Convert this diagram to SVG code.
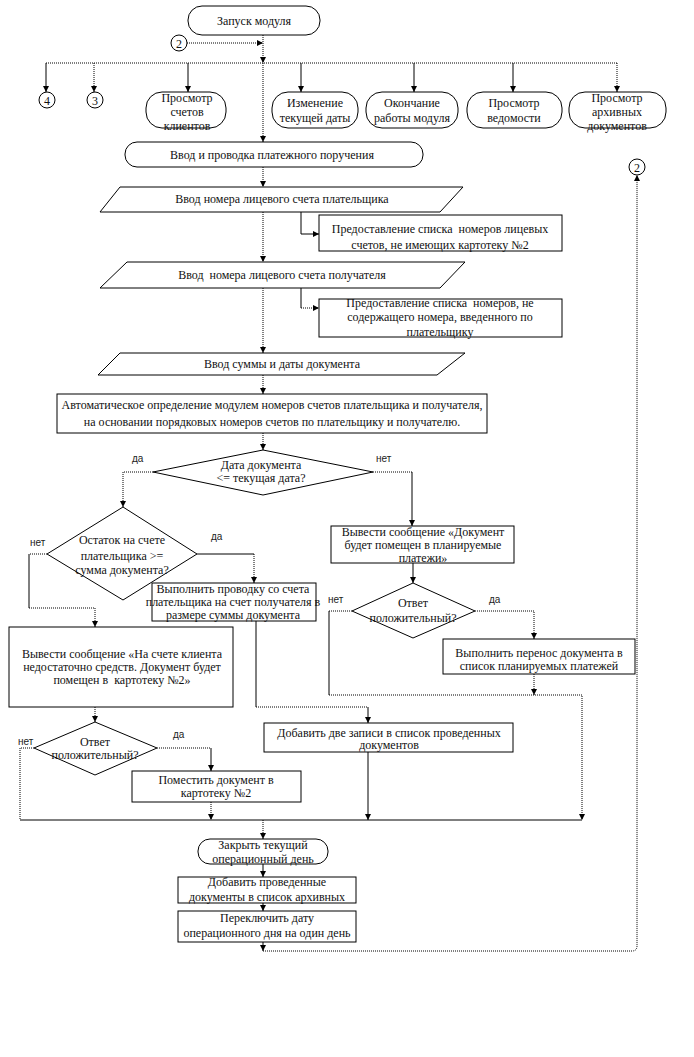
<svg xmlns="http://www.w3.org/2000/svg" width="694" height="1057" viewBox="0 0 694 1057">
<defs>
<marker id="ar" markerWidth="6" markerHeight="6" refX="6" refY="3" orient="auto" markerUnits="userSpaceOnUse">
<path d="M0,0 L6,3 L0,6 z" fill="#000"/>
</marker>
<style>
.s{fill:none;stroke:#000;stroke-width:1}
.d{fill:none;stroke:#000;stroke-width:1;stroke-dasharray:1 1}
.n{fill:#fff;stroke:#000;stroke-width:1}
.t{font-family:"Liberation Serif","Times New Roman",serif;font-size:12px;fill:#111;text-anchor:middle}
.l{font-family:"Liberation Sans",Arial,sans-serif;font-size:10px;fill:#222}
</style>
</defs>
<rect width="694" height="1057" fill="#fff"/>
<g id="connectors">
<path class="d" d="M187,43 H263" marker-end="url(#ar)"/>
<path class="d" d="M263,35 V63" marker-end="url(#ar)"/>
<path class="d" d="M263,63 V142" marker-end="url(#ar)"/>
<path class="d" d="M46,63 H617"/>
<path class="s" d="M46,63 V92" marker-end="url(#ar)"/>
<path class="d" d="M94,63 V92" marker-end="url(#ar)"/>
<path class="s" d="M188,63 V92" marker-end="url(#ar)"/>
<path class="s" d="M301,63 V92" marker-end="url(#ar)"/>
<path class="s" d="M414,63 V92" marker-end="url(#ar)"/>
<path class="s" d="M513,63 V92" marker-end="url(#ar)"/>
<path class="d" d="M617,63 V92" marker-end="url(#ar)"/>
<path class="d" d="M263,167 V187" marker-end="url(#ar)"/>
<path class="s" d="M301,212 V234 H319" marker-end="url(#ar)"/>
<path class="d" d="M263,212 V262" marker-end="url(#ar)"/>
<path class="s" d="M301,288 V308"/>
<path class="d" d="M301,308 H319" marker-end="url(#ar)"/>
<path class="d" d="M263,288 V353" marker-end="url(#ar)"/>
<path class="d" d="M263,375 V394" marker-end="url(#ar)"/>
<path class="d" d="M263,433 V450" marker-end="url(#ar)"/>
<path class="d" d="M153,472 H123 V507" marker-end="url(#ar)"/>
<path class="d" d="M373,472 H412"/>
<path class="s" d="M412,472 V526" marker-end="url(#ar)"/>
<path class="s" d="M197,554 H254"/>
<path class="d" d="M254,554 V583" marker-end="url(#ar)"/>
<path class="d" d="M47,554 H29"/>
<path class="s" d="M29,554 V608"/>
<path class="d" d="M29,608 H95 V627" marker-end="url(#ar)"/>
<path class="s" d="M413,563 V583" marker-end="url(#ar)"/>
<path class="d" d="M475,611 H534 V639" marker-end="url(#ar)"/>
<path class="d" d="M352,611 H329"/>
<path class="s" d="M329,611 V695"/>
<path class="d" d="M329,695 H582 V820" marker-end="url(#ar)"/>
<path class="d" d="M534,674 V695" marker-end="url(#ar)"/>
<path class="s" d="M256,621 V707"/>
<path class="d" d="M256,707 H368"/>
<path class="s" d="M368,707 V723" marker-end="url(#ar)"/>
<path class="d" d="M95,707 V722" marker-end="url(#ar)"/>
<path class="d" d="M157,748 H211"/>
<path class="s" d="M211,748 V771" marker-end="url(#ar)"/>
<path class="d" d="M34,748 H20 V820"/>
<path class="d" d="M211,802 V820" marker-end="url(#ar)"/>
<path class="s" d="M368,752 V820" marker-end="url(#ar)"/>
<path class="s" d="M20,820 H582"/>
<path class="d" d="M263,820 V839" marker-end="url(#ar)"/>
<path class="s" d="M263,864 V877" marker-end="url(#ar)"/>
<path class="s" d="M263,903 V911" marker-end="url(#ar)"/>
<path class="s" d="M263,942 V951" marker-end="url(#ar)"/>
<path class="d" d="M263,951 H632 Q637,951 637,946 V175" marker-end="url(#ar)"/>
</g>
<g id="start"><rect class="n" x="188" y="6" width="132" height="29" rx="14"/><text class="t" x="254" y="25">Запуск модуля</text></g>
<g id="c2top"><circle class="n" cx="179" cy="43" r="8"/><text class="t" x="179" y="47.5">2</text></g>
<g id="c4"><circle class="n" cx="47" cy="100" r="8"/><text class="t" x="47" y="104.5">4</text></g>
<g id="c3"><circle class="n" cx="95" cy="100" r="8"/><text class="t" x="95" y="104.5">3</text></g>
<g id="view_accounts"><rect class="n" x="146" y="92" width="80" height="36" rx="16"/><text class="t" x="187"><tspan x="187" y="102">Просмотр</tspan><tspan x="187" y="116">счетов</tspan><tspan x="187" y="130">клиентов</tspan></text></g>
<g id="change_date"><rect class="n" x="272" y="92" width="86" height="36" rx="16"/><text class="t"><tspan x="315" y="107">Изменение</tspan><tspan x="315" y="122">текущей даты</tspan></text></g>
<g id="end_work"><rect class="n" x="366" y="92" width="92" height="36" rx="16"/><text class="t"><tspan x="412" y="107">Окончание</tspan><tspan x="412" y="122">работы модуля</tspan></text></g>
<g id="view_report"><rect class="n" x="467" y="92" width="95" height="36" rx="16"/><text class="t"><tspan x="514" y="107">Просмотр</tspan><tspan x="514" y="122">ведомости</tspan></text></g>
<g id="view_archive"><rect class="n" x="569" y="92" width="97" height="36" rx="16"/><text class="t"><tspan x="617" y="102">Просмотр</tspan><tspan x="617" y="116">архивных</tspan><tspan x="617" y="130">документов</tspan></text></g>
<g id="payment"><rect class="n" x="125" y="142" width="298" height="25" rx="12"/><text class="t" x="272" y="159">Ввод и проводка платежного поручения</text></g>
<g id="c2right"><circle class="n" cx="637" cy="167" r="8"/><text class="t" x="637" y="171.5">2</text></g>
<g id="input_payer"><polygon class="n" points="120,187 463,187 440,212 100,212"/><text class="t" x="282" y="203">Ввод номера лицевого счета плательщика</text></g>
<g id="list1"><rect class="n" x="319" y="215" width="243" height="36"/><text class="t" xml:space="preserve"><tspan x="440" y="233">Предоставление списка  номеров лицевых</tspan><tspan x="440" y="249">счетов, не имеющих картотеку №2</tspan></text></g>
<g id="input_recipient"><polygon class="n" points="127,262 465,262 440,288 100,288"/><text class="t" x="282" y="279" xml:space="preserve">Ввод  номера лицевого счета получателя</text></g>
<g id="list2"><rect class="n" x="319" y="299" width="243" height="38"/><text class="t" xml:space="preserve"><tspan x="440" y="307">Предоставление списка  номеров, не</tspan><tspan x="440" y="321">содержащего номера, введенного по</tspan><tspan x="440" y="336">плательщику</tspan></text></g>
<g id="input_sum"><polygon class="n" points="120,353 465,353 437,375 98,375"/><text class="t" x="282" y="368">Ввод суммы и даты документа</text></g>
<g id="auto"><rect class="n" x="57" y="394" width="430" height="39"/><text class="t"><tspan x="272" y="409">Автоматическое определение модулем номеров счетов плательщика и получателя,</tspan><tspan x="272" y="426">на основании порядковых номеров счетов по плательщику и получателю.</tspan></text></g>
<g id="dec_date"><polygon class="n" points="263,450 373,472 263,495 153,472"/><text class="t"><tspan x="261" y="469">Дата документа</tspan><tspan x="261" y="482">&lt;= текущая дата?</tspan></text><text class="l" x="132" y="462">да</text><text class="l" x="376" y="462">нет</text></g>
<g id="dec_balance"><polygon class="n" points="123,507 197,554 123,600 47,554"/><text class="t"><tspan x="122" y="544">Остаток на счете</tspan><tspan x="122" y="560">плательщика &gt;=</tspan><tspan x="122" y="574">сумма документа?</tspan></text><text class="l" x="30" y="546">нет</text><text class="l" x="211" y="540">да</text></g>
<g id="post"><rect class="n" x="152" y="583" width="164" height="38"/><text class="t"><tspan x="233" y="593">Выполнить проводку со счета</tspan><tspan x="233" y="606">плательщика на счет получателя в</tspan><tspan x="233" y="619">размере суммы документа</tspan></text></g>
<g id="msg_insufficient"><rect class="n" x="9" y="627" width="224" height="80"/><text class="t" xml:space="preserve"><tspan x="122" y="658">Вывести сообщение «На счете клиента</tspan><tspan x="122" y="671">недостаточно средств. Документ будет</tspan><tspan x="122" y="684">помещен в  картотеку №2»</tspan></text></g>
<g id="msg_planned"><rect class="n" x="331" y="526" width="183" height="37"/><text class="t"><tspan x="423" y="536">Вывести сообщение «Документ</tspan><tspan x="423" y="549">будет помещен в планируемые</tspan><tspan x="423" y="562">платежи»</tspan></text></g>
<g id="dec_answer1"><polygon class="n" points="413,583 475,611 413,638 352,611"/><text class="t"><tspan x="413" y="607">Ответ</tspan><tspan x="413" y="622">положительный?</tspan></text><text class="l" x="328" y="603">нет</text><text class="l" x="489" y="603">да</text></g>
<g id="transfer"><rect class="n" x="443" y="639" width="192" height="35"/><text class="t"><tspan x="539" y="657">Выполнить перенос документа в</tspan><tspan x="539" y="670">список планируемых платежей</tspan></text></g>
<g id="add_two"><rect class="n" x="264" y="723" width="249" height="29"/><text class="t"><tspan x="389" y="737">Добавить две записи в список проведенных</tspan><tspan x="389" y="749">документов</tspan></text></g>
<g id="dec_answer2"><polygon class="n" points="95,722 157,748 95,775 34,748"/><text class="t"><tspan x="95" y="746">Ответ</tspan><tspan x="95" y="759">положительный?</tspan></text><text class="l" x="18" y="745">нет</text><text class="l" x="173" y="738">да</text></g>
<g id="card2"><rect class="n" x="132" y="771" width="169" height="31"/><text class="t"><tspan x="216" y="784">Поместить документ в</tspan><tspan x="216" y="797">картотеку №2</tspan></text></g>
<g id="close_day"><rect class="n" x="198" y="839" width="130" height="25" rx="12"/><text class="t"><tspan x="263" y="849">Закрыть текущий</tspan><tspan x="263" y="863">операционный день</tspan></text></g>
<g id="archive"><rect class="n" x="178" y="877" width="178" height="26"/><text class="t"><tspan x="267" y="886">Добавить проведенные</tspan><tspan x="267" y="901">документы в список архивных</tspan></text></g>
<g id="switch_date"><rect class="n" x="178" y="911" width="178" height="31"/><text class="t"><tspan x="267" y="922">Переключить дату</tspan><tspan x="267" y="937">операционного дня на один день</tspan></text></g>
</svg>
